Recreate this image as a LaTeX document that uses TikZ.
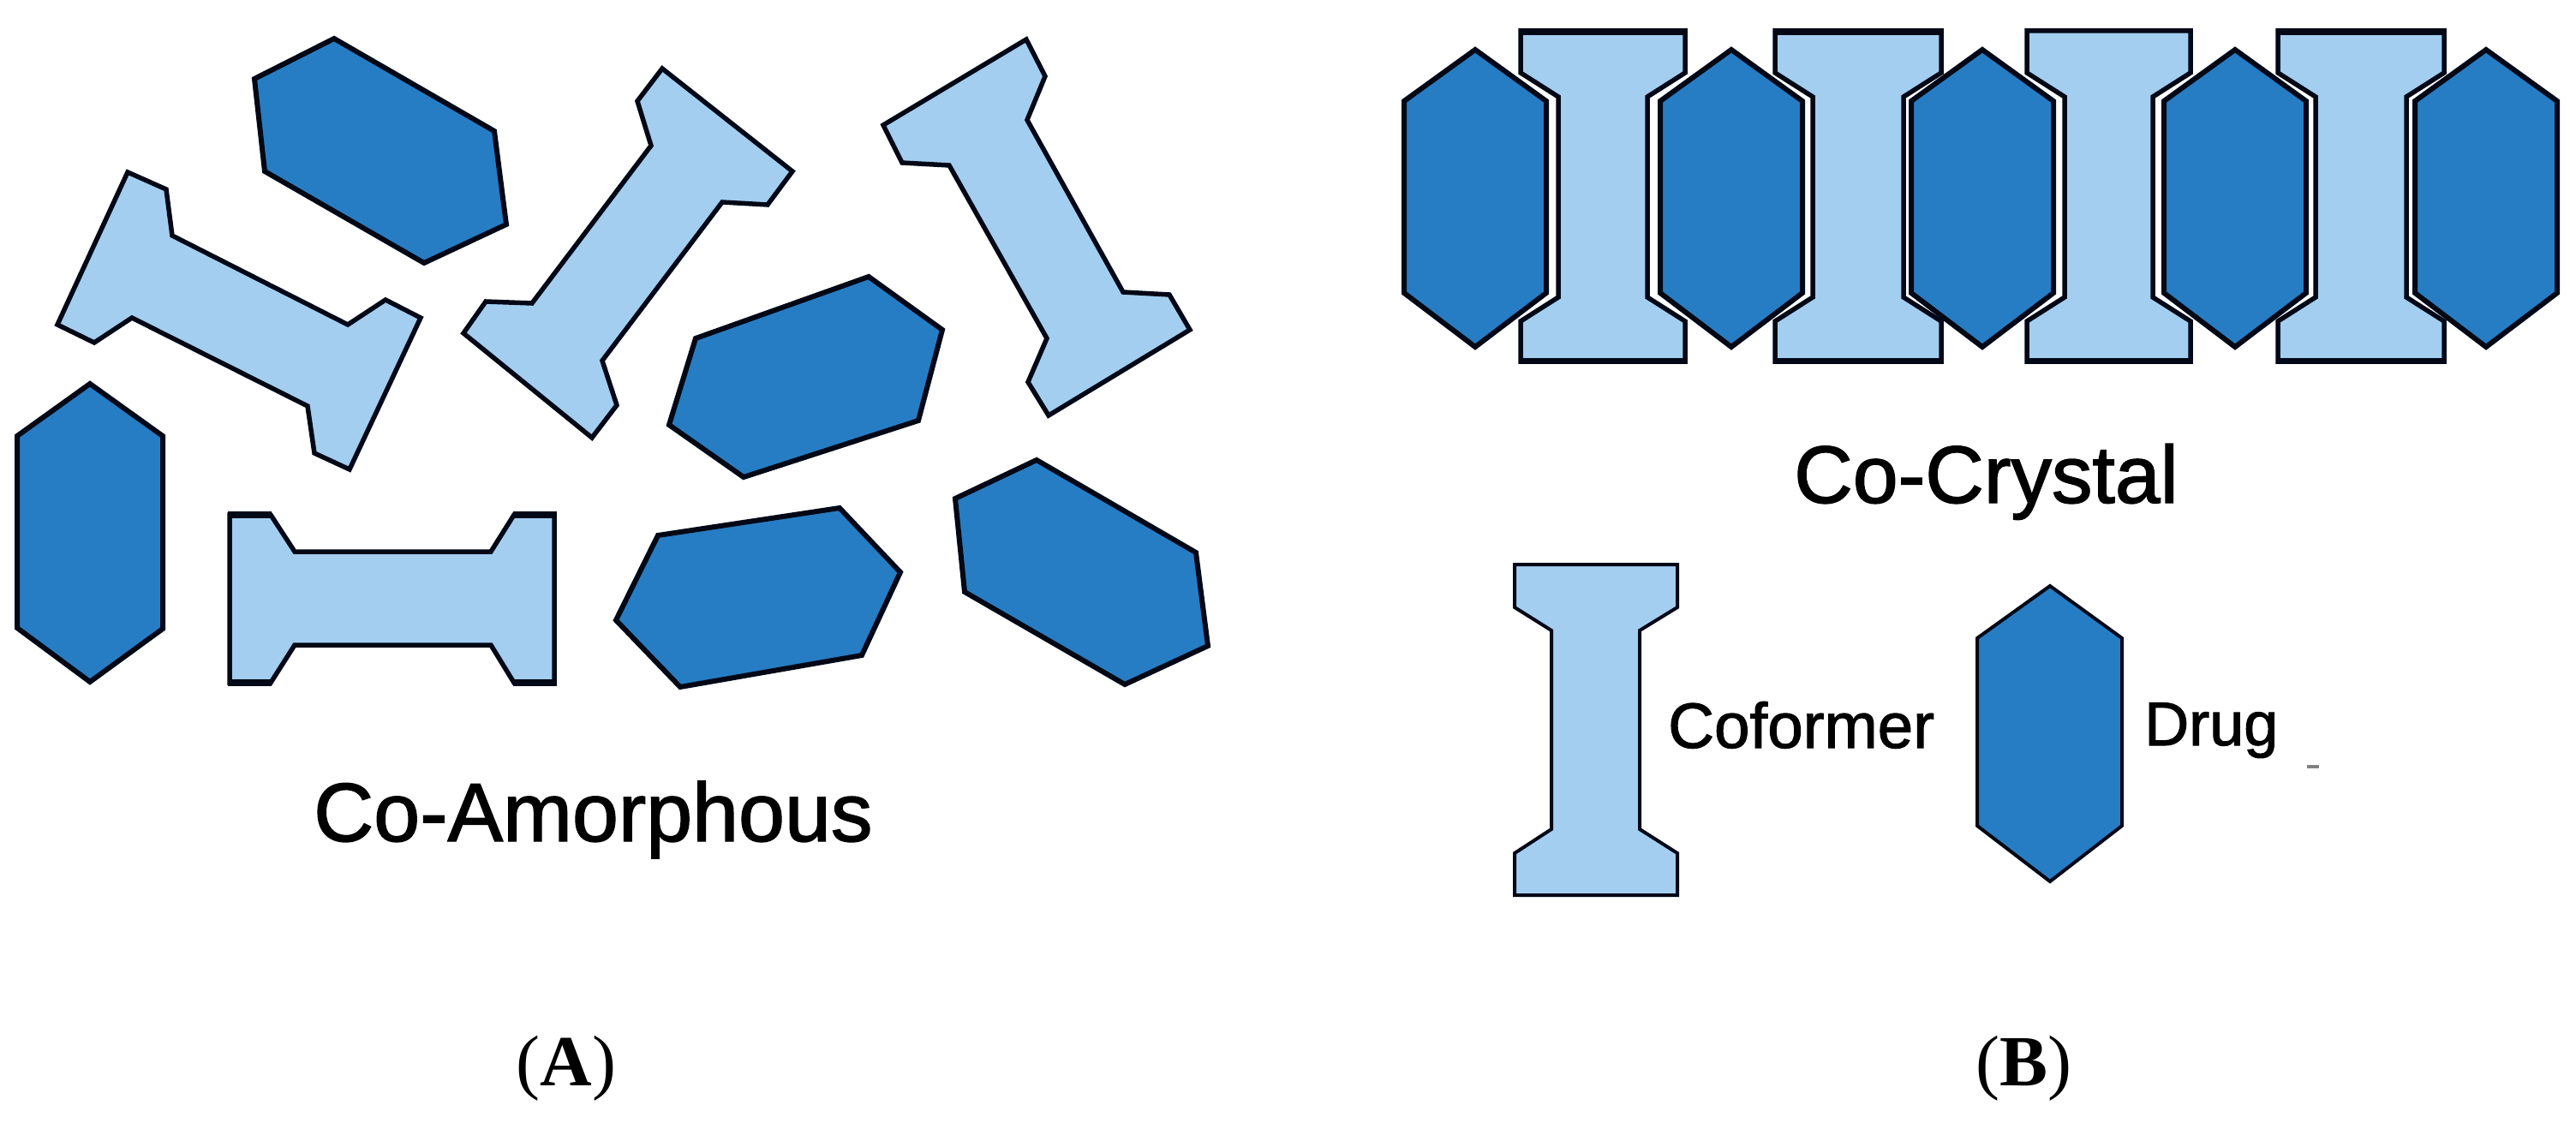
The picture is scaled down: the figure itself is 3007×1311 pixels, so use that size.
\documentclass[tikz,border=0pt]{standalone}
\usepackage{fontspec}
\setmainfont[RawFeature={embolden=1.5}]{Liberation Sans}
\newfontfamily\serifcap{Liberation Serif}
\definecolor{drugblue}{RGB}{39,125,195}
\definecolor{coblue}{RGB}{163,206,240}
\definecolor{inkline}{RGB}{2,8,22}
\tikzset{
  drugshape/.style={draw=inkline,fill=drugblue,line width=6pt,line join=miter,miter limit=3},
  coshape/.style={draw=inkline,fill=coblue,line width=5.5pt,line join=miter,miter limit=3},
  thinco/.style={draw=inkline,fill=coblue,line width=4pt,line join=miter,miter limit=3},
  lab/.style={anchor=base west,inner sep=0pt,text=black},
  capt/.style={anchor=base,inner sep=0pt,text=black,font=\serifcap\fontsize{84pt}{96pt}\selectfont},
  edgebar/.style={draw=inkline,line width=7.5pt,line cap=butt}
}
\newcommand{\vhex}[1]{\draw[drugshape] (#1,58) -- ++(83,60) -- ++(0,224) -- ++(-83,63) -- ++(-83,-63) -- ++(0,-224) -- cycle;}
\newcommand{\vbone}[2]{\draw[coshape] (#1,36) -- (#2,36) -- (#2,85) -- ({#2-44},113) -- ({#2-44},347) -- (#2,375) -- (#2,422) -- (#1,422) -- (#1,375) -- ({#1+44},347) -- ({#1+44},113) -- (#1,85) -- cycle;
  \draw[edgebar] ({#1-2},421.5) -- ({#2+2},421.5);}
\newcommand{\topbar}[2]{\draw[edgebar] ({#1-2},37) -- ({#2+2},37);}
\begin{document}
\begin{tikzpicture}[x=1pt,y=-1pt]
\useasboundingbox (0,0) rectangle (3007,1311);
% panel A: drugs
\draw[drugshape] (390,45) -- (577,153) -- (591,262) -- (495,307) -- (309,200) -- (297,92) -- cycle;
\draw[drugshape] (1014,323) -- (1100,385) -- (1072,491) -- (868,557) -- (781,496) -- (812,395) -- cycle;
\draw[drugshape] (105,448) -- (190,509) -- (190,734) -- (105,796) -- (20,733) -- (20,509) -- cycle;
\draw[drugshape] (980,593) -- (1051,668) -- (1006,765) -- (794,802) -- (719,724) -- (768,625) -- cycle;
\draw[drugshape] (1210,537) -- (1396,645) -- (1410,754) -- (1313,799) -- (1126,691) -- (1115,582) -- cycle;
% panel A: coformers
\draw[coshape] (149,201) -- (194,221) -- (201,275) -- (406,379) -- (450,350) -- (491,371) -- (408,548) -- (367,529) -- (359,474) -- (154,371) -- (110,400) -- (67,379) -- cycle;
\draw[coshape] (773,80) -- (925,200) -- (896,239) -- (843,236) -- (703,421) -- (720,473) -- (691,511) -- (541,389) -- (567,352) -- (621,354) -- (760,170) -- (744,118) -- cycle;
\draw[coshape] (1198,46) -- (1220,89) -- (1199,140) -- (1311,341) -- (1365,344) -- (1389,385) -- (1224,485) -- (1200,446) -- (1222,395) -- (1108,193) -- (1053,190) -- (1031,146) -- cycle;
\draw[coshape] (268,601) -- (316,601) -- (344,644) -- (573,644) -- (600,601) -- (647,601) -- (647,797) -- (600,797) -- (573,753) -- (344,753) -- (316,797) -- (268,797) -- cycle;
\draw[edgebar] (266,601) -- (317,601);
\draw[edgebar] (599,601) -- (650,601);
\draw[edgebar] (266,797) -- (317,797);
\draw[edgebar] (599,797) -- (650,797);
% panel B: row
\vbone{1775}{1967}
\vbone{2072}{2266}
\vbone{2366}{2557}
\vbone{2659}{2853}
\topbar{1775}{1967}
\topbar{2072}{2266}
\topbar{2659}{2853}
\vhex{1722}
\vhex{2021}
\vhex{2314}
\vhex{2609}
\vhex{2902}
% legend
\draw[thinco] (1768,659) -- (1958,659) -- (1958,709) -- (1914,736) -- (1914,968) -- (1958,996) -- (1958,1045) -- (1768,1045) -- (1768,996) -- (1811,968) -- (1811,736) -- (1768,709) -- cycle;
\draw[drugshape,line width=4pt] (2393,684) -- (2477,745) -- (2477,964) -- (2393,1029) -- (2308,964) -- (2308,745) -- cycle;
\draw[draw=gray,line width=4pt] (2693,895) -- (2707,895);
% labels
\node[lab,font=\fontsize{97pt}{110pt}\selectfont] (amorph) at (366,982) {Co-Amorphous};
\node[lab,font=\fontsize{95pt}{110pt}\selectfont] (crystal) at (2094,587) {Co-Crystal};
\node[lab,font=\fontsize{74.6pt}{85pt}\selectfont] (cof) at (1947,873) {Coformer};
\node[lab,font=\fontsize{72pt}{85pt}\selectfont] (drg) at (2503,870) {Drug};
\node[capt] (capA) at (661,1267) {(\textbf{A})};
\node[capt] (capB) at (2362,1267) {(\textbf{B})};
\end{tikzpicture}
\end{document}
